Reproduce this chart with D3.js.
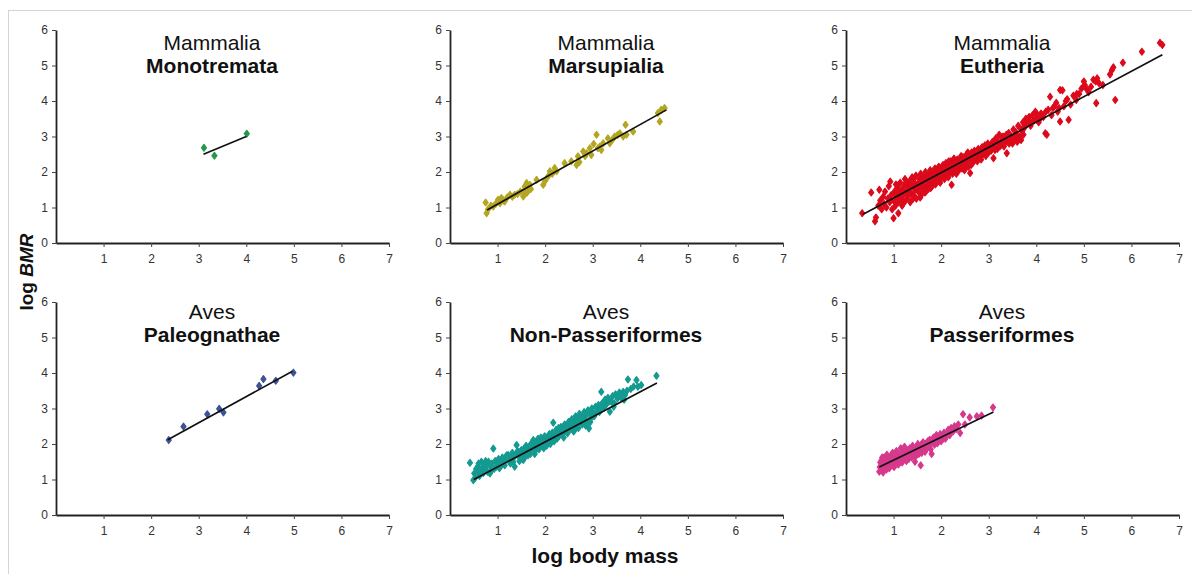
<!DOCTYPE html>
<html>
<head>
<meta charset="utf-8">
<script src="https://cdn.jsdelivr.net/npm/d3@7"></script>
<style>
    body { margin: 0; background: #fff; font-family: "Liberation Sans", Arial, sans-serif; }
    .tick text { font-size: 12px; fill: #333; font-family: "Liberation Sans", Arial, sans-serif; }
</style>
</head>
<body>
<div id="chart"></div>
<script>

// panel labels
const classNames = ["Mammalia", "Mammalia", "Mammalia", "Aves", "Aves", "Aves"];
const groupNames = ["Monotremata", "Marsupialia", "Eutheria", "Paleognathae", "Non-Passeriformes", "Passeriformes"];
const groupColors = ["#23994a", "#b3a623", "#dc0a1c", "#3e5296", "#149a91", "#d6398c"];

const xTicks = [1, 2, 3, 4, 5, 6, 7];
const yTicks = [0, 1, 2, 3, 4, 5, 6];

// log body mass, log BMR pairs
const monotremata = [[3.11, 2.68], [3.33, 2.46], [4.01, 3.08]];

const marsupialia = [
    [0.75, 1.14], [0.77, 0.84], [0.80, 0.95], [0.86, 1.05], [0.91, 1.03], [0.96, 1.10], [1.01, 1.22], [1.05, 1.12],
    [1.08, 1.27], [1.12, 1.20], [1.15, 1.17], [1.20, 1.28], [1.26, 1.36], [1.31, 1.30], [1.36, 1.36], [1.42, 1.38],
    [1.48, 1.45], [1.54, 1.31], [1.55, 1.45], [1.57, 1.59], [1.59, 1.40], [1.61, 1.69], [1.62, 1.42], [1.64, 1.50],
    [1.66, 1.58], [1.68, 1.64], [1.70, 1.52], [1.82, 1.78], [1.96, 1.64], [2.00, 1.75], [2.06, 1.87], [2.10, 2.02],
    [2.15, 1.95], [2.20, 2.11], [2.24, 2.02], [2.41, 2.25], [2.55, 2.30], [2.66, 2.20], [2.69, 2.44], [2.72, 2.28],
    [2.80, 2.58], [2.84, 2.45], [2.87, 2.53], [2.94, 2.67], [2.97, 2.48], [3.02, 2.79], [3.08, 3.05], [3.11, 2.67],
    [3.15, 2.72], [3.18, 2.62], [3.22, 2.81], [3.32, 2.95], [3.36, 2.81], [3.42, 2.92], [3.46, 3.00], [3.52, 3.04],
    [3.57, 3.09], [3.64, 3.00], [3.69, 3.33], [3.71, 3.05], [3.85, 3.14], [4.37, 3.66], [4.41, 3.42], [4.44, 3.75],
    [4.51, 3.80]
];

const eutheria = [
    [0.34, 0.84], [0.53, 1.42], [0.61, 0.61], [0.63, 0.72], [0.70, 1.50], [0.68, 1.05], [0.72, 1.20], [0.75, 0.95],
    [0.78, 1.30], [0.80, 1.10], [0.82, 1.45], [0.85, 1.00], [0.88, 1.25], [0.90, 1.60], [0.92, 1.15], [0.93, 1.73],
    [0.95, 1.35], [0.97, 0.95], [1.00, 0.70], [1.00, 1.20], [1.02, 1.45], [1.04, 1.05], [1.05, 1.65], [1.07, 1.30],
    [1.08, 1.55], [1.10, 0.84], [1.10, 1.15], [1.12, 1.40], [1.14, 1.70], [1.15, 1.25], [1.17, 1.50], [1.18, 1.05],
    [1.20, 1.35], [1.22, 1.60], [1.24, 1.80], [1.25, 1.20], [1.27, 1.45], [1.29, 1.65], [1.30, 1.30], [1.32, 1.55],
    [1.34, 1.75], [1.35, 1.15], [1.37, 1.40], [1.39, 1.85], [1.40, 1.60], [1.42, 1.35], [1.44, 1.70], [1.45, 1.50],
    [1.47, 1.90], [1.48, 1.25], [1.50, 1.65], [1.52, 1.45], [1.54, 1.80], [1.55, 1.55], [1.57, 1.95], [1.58, 1.35],
    [1.60, 1.70], [1.62, 1.50], [1.64, 1.85], [1.65, 1.60], [1.67, 2.00], [1.68, 1.45], [1.70, 1.75], [1.72, 1.60],
    [1.74, 1.90], [1.75, 1.65], [1.77, 2.05], [1.78, 1.55], [1.80, 1.80], [1.82, 1.70], [1.84, 1.95], [1.85, 1.75],
    [1.87, 2.10], [1.88, 1.65], [1.90, 1.85], [1.92, 2.00], [1.94, 1.75], [1.95, 2.15], [1.97, 1.90], [1.98, 1.70],
    [2.00, 2.05], [2.02, 1.85], [2.04, 2.20], [2.05, 1.95], [2.07, 1.80], [2.09, 2.10], [2.10, 2.25], [2.12, 1.90],
    [2.14, 2.05], [2.15, 1.85], [2.17, 2.20], [2.19, 2.00], [2.20, 2.30], [2.22, 1.64], [2.22, 2.10], [2.24, 1.95],
    [2.26, 2.25], [2.28, 2.05], [2.30, 2.15], [2.32, 1.95], [2.34, 2.35], [2.35, 2.20], [2.37, 2.05], [2.39, 2.30],
    [2.40, 2.15], [2.42, 2.45], [2.44, 2.10], [2.45, 2.35], [2.47, 2.25], [2.49, 2.05], [2.50, 2.40], [2.52, 2.20],
    [2.54, 2.50], [2.55, 2.30], [2.57, 2.15], [2.59, 2.45], [2.61, 1.97], [2.62, 2.35], [2.64, 2.55], [2.66, 2.25],
    [2.68, 2.45], [2.70, 2.60], [2.72, 2.35], [2.74, 2.50], [2.76, 2.30], [2.78, 2.65], [2.80, 2.45], [2.82, 2.55],
    [2.84, 2.35], [2.86, 2.70], [2.88, 2.50], [2.90, 2.60], [2.92, 2.75], [2.94, 2.45], [2.96, 2.65], [2.98, 2.80],
    [3.00, 2.55], [3.02, 2.70], [3.05, 2.60], [3.08, 2.85], [3.10, 2.39], [3.12, 2.70], [3.15, 2.95], [3.18, 2.65],
    [3.20, 2.80], [3.22, 3.05], [3.25, 2.75], [3.28, 2.90], [3.30, 3.00], [3.33, 2.80], [3.35, 2.95], [3.38, 2.53],
    [3.40, 2.85], [3.42, 3.10], [3.45, 2.90], [3.48, 3.00], [3.50, 2.80], [3.52, 3.20], [3.55, 2.95], [3.58, 3.05],
    [3.60, 2.85], [3.62, 3.30], [3.65, 3.00], [3.68, 2.90], [3.70, 3.15], [3.72, 3.40], [3.75, 3.25], [3.78, 3.50],
    [3.80, 3.35], [3.85, 3.55], [3.88, 3.30], [3.92, 3.60], [3.95, 3.45], [3.98, 3.70], [4.00, 3.50], [4.05, 3.40],
    [4.10, 3.65], [4.15, 3.55], [4.19, 3.09], [4.22, 3.05], [4.25, 3.75], [4.29, 4.12], [4.32, 3.60], [4.38, 3.85],
    [4.42, 3.95], [4.45, 3.70], [4.50, 3.42], [4.50, 4.31], [4.55, 4.30], [4.58, 3.85], [4.62, 4.00], [4.68, 3.47],
    [4.72, 3.90], [4.78, 4.15], [4.84, 4.03], [4.90, 4.20], [4.95, 4.35], [5.00, 4.55], [5.02, 4.45], [5.10, 4.25],
    [5.15, 4.40], [5.20, 4.60], [5.26, 3.94], [5.28, 4.64], [5.32, 4.50], [5.40, 4.45], [5.55, 4.75], [5.59, 4.87],
    [5.62, 4.95], [5.66, 4.03], [5.82, 5.08], [6.22, 5.39], [6.60, 5.64], [6.65, 5.58],
    [1.03, 1.38], [1.09, 1.62], [1.13, 1.22], [1.19, 1.48], [1.21, 1.12], [1.26, 1.70], [1.31, 1.42], [1.36, 1.62],
    [1.41, 1.25], [1.43, 1.82], [1.49, 1.55], [1.53, 1.68], [1.56, 1.28], [1.59, 1.88], [1.63, 1.62], [1.66, 1.42],
    [1.71, 1.92], [1.73, 1.52], [1.79, 1.95], [1.81, 1.60], [1.86, 1.88], [1.91, 1.72], [1.96, 2.08], [2.01, 1.92],
    [2.06, 2.12], [2.11, 1.98], [2.16, 2.30], [2.21, 2.05], [2.27, 2.38], [2.31, 2.02], [2.36, 2.28], [2.41, 2.10],
    [2.46, 2.42], [2.51, 2.12], [2.56, 2.55], [2.63, 2.20], [2.67, 2.52], [2.73, 2.42], [2.77, 2.62], [2.83, 2.42],
    [2.87, 2.62], [2.93, 2.55], [2.97, 2.72], [3.03, 2.62], [3.07, 2.78], [3.13, 2.62], [3.17, 2.88], [3.23, 2.72],
    [3.27, 2.98], [3.32, 2.72], [3.37, 3.05], [3.43, 2.80], [3.47, 2.92], [3.53, 2.88], [3.57, 3.12], [3.63, 2.92],
    [3.67, 3.22], [3.73, 3.05], [3.77, 3.30], [3.83, 3.45], [3.90, 3.40], [4.02, 3.62], [4.08, 3.50], [4.20, 3.70],
    [4.35, 3.80], [4.48, 3.80], [4.65, 4.05], [4.85, 4.20], [5.05, 4.35], [5.25, 4.55]
];

const paleognathae = [
    [2.37, 2.11], [2.68, 2.49], [3.18, 2.84], [3.43, 2.99], [3.52, 2.89],
    [4.27, 3.64], [4.36, 3.83], [4.62, 3.78], [4.99, 4.01]
];

const nonPasseriformes = [
    [0.42, 1.47], [0.49, 0.98], [0.51, 1.17], [0.53, 1.05], [0.55, 1.30], [0.58, 1.20], [0.59, 1.36], [0.62, 1.10],
    [0.64, 1.25], [0.66, 1.50], [0.68, 1.32], [0.70, 1.18], [0.72, 1.42], [0.74, 1.28], [0.77, 1.41], [0.79, 1.22],
    [0.81, 1.50], [0.84, 1.17], [0.86, 1.35], [0.88, 1.45], [0.91, 1.87], [0.93, 1.30], [0.95, 1.52], [0.98, 1.36],
    [1.00, 1.45], [1.02, 1.58], [1.05, 1.50], [1.08, 1.40], [1.10, 1.62], [1.13, 1.48], [1.16, 1.55], [1.19, 1.68],
    [1.22, 1.69], [1.25, 1.52], [1.28, 1.60], [1.31, 1.75], [1.34, 1.62], [1.36, 1.36], [1.38, 1.70], [1.40, 1.97],
    [1.42, 1.80], [1.45, 1.65], [1.48, 1.78], [1.50, 1.83], [1.52, 1.70], [1.54, 1.55], [1.56, 1.88], [1.58, 1.75],
    [1.60, 1.95], [1.62, 1.82], [1.64, 1.68], [1.66, 1.92], [1.68, 1.80], [1.70, 2.00], [1.72, 1.88], [1.75, 2.11],
    [1.77, 1.95], [1.79, 1.80], [1.81, 2.05], [1.83, 1.92], [1.85, 2.15], [1.87, 1.85], [1.89, 2.02], [1.91, 2.18],
    [1.93, 1.95], [1.95, 2.10], [1.97, 1.88], [1.99, 2.22], [2.01, 2.05], [2.03, 1.95], [2.05, 2.20], [2.07, 2.10],
    [2.09, 2.28], [2.11, 2.00], [2.13, 2.15], [2.15, 2.32], [2.17, 2.60], [2.19, 2.08], [2.21, 2.25], [2.23, 2.40],
    [2.25, 2.15], [2.27, 2.35], [2.29, 2.22], [2.31, 2.30], [2.33, 2.48], [2.35, 2.28], [2.37, 2.42], [2.39, 2.18],
    [2.41, 2.55], [2.43, 2.38], [2.45, 2.50], [2.47, 2.30], [2.49, 2.62], [2.52, 2.58], [2.54, 2.42], [2.56, 2.70],
    [2.58, 2.50], [2.60, 2.35], [2.62, 2.65], [2.64, 2.78], [2.66, 2.55], [2.68, 2.72], [2.70, 2.45], [2.72, 2.85],
    [2.74, 2.62], [2.76, 2.75], [2.78, 2.55], [2.80, 2.77], [2.82, 2.90], [2.84, 2.68], [2.86, 2.80], [2.88, 2.60],
    [2.90, 2.95], [2.92, 2.44], [2.94, 2.85], [2.96, 2.72], [2.98, 3.00], [3.00, 2.88], [3.03, 2.78], [3.06, 3.05],
    [3.09, 2.92], [3.12, 3.10], [3.15, 2.98], [3.18, 3.47], [3.20, 3.15], [3.23, 3.02], [3.26, 3.25], [3.29, 3.12],
    [3.32, 3.30], [3.36, 2.91], [3.39, 3.20], [3.42, 3.35], [3.45, 3.15], [3.48, 3.40], [3.52, 3.28], [3.56, 3.45],
    [3.60, 3.30], [3.64, 3.47], [3.68, 3.38], [3.74, 3.82], [3.80, 3.55], [3.86, 3.62], [3.92, 3.80], [3.95, 3.61],
    [4.02, 3.66], [4.34, 3.92],
    [0.60, 1.45], [0.75, 1.52], [0.89, 1.28], [1.04, 1.32], [1.15, 1.40], [1.27, 1.45], [1.33, 1.50], [1.46, 1.52],
    [1.57, 1.62], [1.69, 1.72], [1.78, 1.72], [1.88, 1.95], [1.98, 2.00], [2.08, 2.05], [2.18, 2.22], [2.28, 2.45],
    [2.38, 2.32], [2.48, 2.42], [2.55, 2.62], [2.65, 2.45], [2.75, 2.68], [2.85, 2.52], [2.95, 2.62], [3.05, 2.85],
    [3.14, 2.90], [3.25, 3.10], [3.35, 3.20], [3.44, 3.05], [3.55, 3.35], [3.66, 3.25], [3.72, 3.50]
];

const passeriformes = [
    [0.70, 1.22], [0.71, 1.35], [0.72, 1.48], [0.74, 1.28], [0.75, 1.55], [0.77, 1.40], [0.78, 1.20], [0.80, 1.62],
    [0.82, 1.35], [0.83, 1.50], [0.85, 1.28], [0.86, 1.70], [0.88, 1.45], [0.90, 1.58], [0.91, 1.32], [0.93, 1.52],
    [0.95, 1.68], [0.96, 1.40], [0.98, 1.75], [1.00, 1.55], [1.01, 1.35], [1.03, 1.62], [1.05, 1.48], [1.06, 1.80],
    [1.08, 1.58], [1.10, 1.42], [1.11, 1.70], [1.13, 1.55], [1.15, 1.88], [1.16, 1.62], [1.18, 1.48], [1.20, 1.75],
    [1.22, 1.60], [1.23, 1.92], [1.25, 1.68], [1.27, 1.52], [1.29, 1.82], [1.30, 1.70], [1.32, 1.58], [1.34, 1.88],
    [1.36, 1.72], [1.38, 1.62], [1.40, 1.95], [1.42, 1.78], [1.44, 1.65], [1.45, 1.50], [1.47, 1.90], [1.49, 1.80],
    [1.51, 2.00], [1.53, 1.72], [1.55, 1.88], [1.57, 1.40], [1.58, 1.98], [1.60, 1.82], [1.62, 2.05], [1.64, 1.90],
    [1.66, 1.78], [1.68, 2.00], [1.70, 1.88], [1.72, 2.08], [1.74, 1.95], [1.76, 2.12], [1.78, 1.85], [1.80, 1.72],
    [1.82, 2.05], [1.84, 2.18], [1.86, 1.98], [1.88, 2.10], [1.90, 2.25], [1.92, 2.02], [1.95, 2.15], [1.98, 2.28],
    [2.00, 2.08], [2.03, 2.22], [2.06, 2.32], [2.09, 2.15], [2.12, 2.30], [2.15, 2.40], [2.18, 2.25], [2.21, 2.45],
    [2.25, 2.35], [2.28, 2.50], [2.32, 2.42], [2.36, 2.55], [2.40, 2.31], [2.46, 2.84], [2.50, 2.55], [2.60, 2.75],
    [2.75, 2.78], [2.85, 2.80], [3.09, 3.03],
    [0.76, 1.62], [0.87, 1.55], [0.97, 1.48], [1.07, 1.68], [1.17, 1.72], [1.28, 1.62], [1.37, 1.82], [1.48, 1.68],
    [1.59, 1.75], [1.69, 1.92], [1.79, 2.00], [1.93, 2.12], [2.04, 2.15], [2.14, 2.28]
];

const groupPoints = [monotremata, marsupialia, eutheria, paleognathae, nonPasseriformes, passeriformes];

// fitted lines, [x start, y start], [x end, y end]
const fitLines = [
    [[3.10, 2.50], [4.00, 3.00]],
    [[0.78, 0.93], [4.55, 3.75]],
    [[0.35, 0.80], [6.65, 5.30]],
    [[2.35, 2.12], [4.97, 4.05]],
    [[0.50, 1.00], [4.35, 3.72]],
    [[0.70, 1.35], [3.10, 2.90]]
];


class ScatterPanel {
    constructor(svg, idx, left, bottom) {
        this.svg = svg;
        this.idx = idx;
        this.left = left;
        this.bottom = bottom;

        this.initVis();
    }

    initVis() {
        const vis = this;

        vis.WIDTH = 333;
        vis.HEIGHT = 213;

        vis.x = d3.scaleLinear().domain([0, 7]).range([vis.left, vis.left + vis.WIDTH]);
        vis.y = d3.scaleLinear().domain([0, 6]).range([vis.bottom, vis.bottom - vis.HEIGHT]);

        vis.g = vis.svg.append("g");

        const xAxis = d3.axisBottom(vis.x).tickValues(xTicks).tickFormat(d3.format("d"))
            .tickSize(4).tickSizeOuter(0).tickPadding(7);
        const yAxis = d3.axisLeft(vis.y).tickValues(yTicks).tickFormat(d3.format("d"))
            .tickSize(4).tickSizeOuter(0).tickPadding(4);

        vis.g.append("g")
            .attr("transform", `translate(0,${vis.bottom})`)
            .call(xAxis);
        vis.g.append("g")
            .attr("transform", `translate(${vis.left},0)`)
            .call(yAxis);

        vis.g.selectAll(".domain").attr("stroke", "#222").attr("stroke-width", 1.8);
        vis.g.selectAll(".tick line").attr("stroke", "#444").attr("stroke-width", 1);

        // two line title
        const titleY = vis.bottom - vis.HEIGHT + (vis.idx < 3 ? 20 : 17);
        vis.g.append("text")
            .attr("x", vis.left + 156)
            .attr("y", titleY)
            .attr("text-anchor", "middle")
            .style("font-size", "21px")
            .style("fill", "#111")
            .text(classNames[vis.idx]);
        vis.g.append("text")
            .attr("x", vis.left + 156)
            .attr("y", titleY + 23)
            .attr("text-anchor", "middle")
            .style("font-size", "21px")
            .style("font-weight", "bold")
            .style("fill", "#111")
            .text(groupNames[vis.idx]);

        vis.render();
    }

    render() {
        const vis = this;

        vis.g.selectAll("path.pt")
            .data(groupPoints[vis.idx])
            .enter().append("path")
            .attr("class", "pt")
            .attr("d", "M0,-3.4L2.5,0L0,3.4L-2.5,0Z")
            .attr("transform", d => `translate(${vis.x(d[0])},${vis.y(d[1])})`)
            .attr("fill", groupColors[vis.idx])
            .attr("stroke", groupColors[vis.idx])
            .attr("stroke-width", 1.2)
            .attr("stroke-linejoin", "round");

        const line = d3.line().x(d => vis.x(d[0])).y(d => vis.y(d[1]));
        vis.g.append("path")
            .attr("d", line(fitLines[vis.idx]))
            .attr("fill", "none")
            .attr("stroke", "#111")
            .attr("stroke-width", 1.7);
    }
}


const svg = d3.select("#chart").append("svg")
    .attr("width", 1192)
    .attr("height", 574);

// light frame round the figure
svg.append("rect")
    .attr("x", 8.5).attr("y", 10.5)
    .attr("width", 1300).attr("height", 700)
    .attr("fill", "none")
    .attr("stroke", "#d4d4d4");

const panelLeft = [56, 450, 846];
const panelBottom = [243, 515];

groupNames.forEach((g, i) => {
    new ScatterPanel(svg, i, panelLeft[i % 3], panelBottom[Math.floor(i / 3)]);
});

// shared axis titles
svg.append("text")
    .attr("transform", "translate(33,272) rotate(-90)")
    .attr("text-anchor", "middle")
    .style("font-size", "19px")
    .style("font-weight", "bold")
    .style("fill", "#111")
    .text("log ")
    .append("tspan")
    .style("font-style", "italic")
    .text("BMR");

svg.append("text")
    .attr("x", 605)
    .attr("y", 563)
    .attr("text-anchor", "middle")
    .style("font-size", "21px")
    .style("font-weight", "bold")
    .style("fill", "#111")
    .text("log body mass");

</script>
</body>
</html>
